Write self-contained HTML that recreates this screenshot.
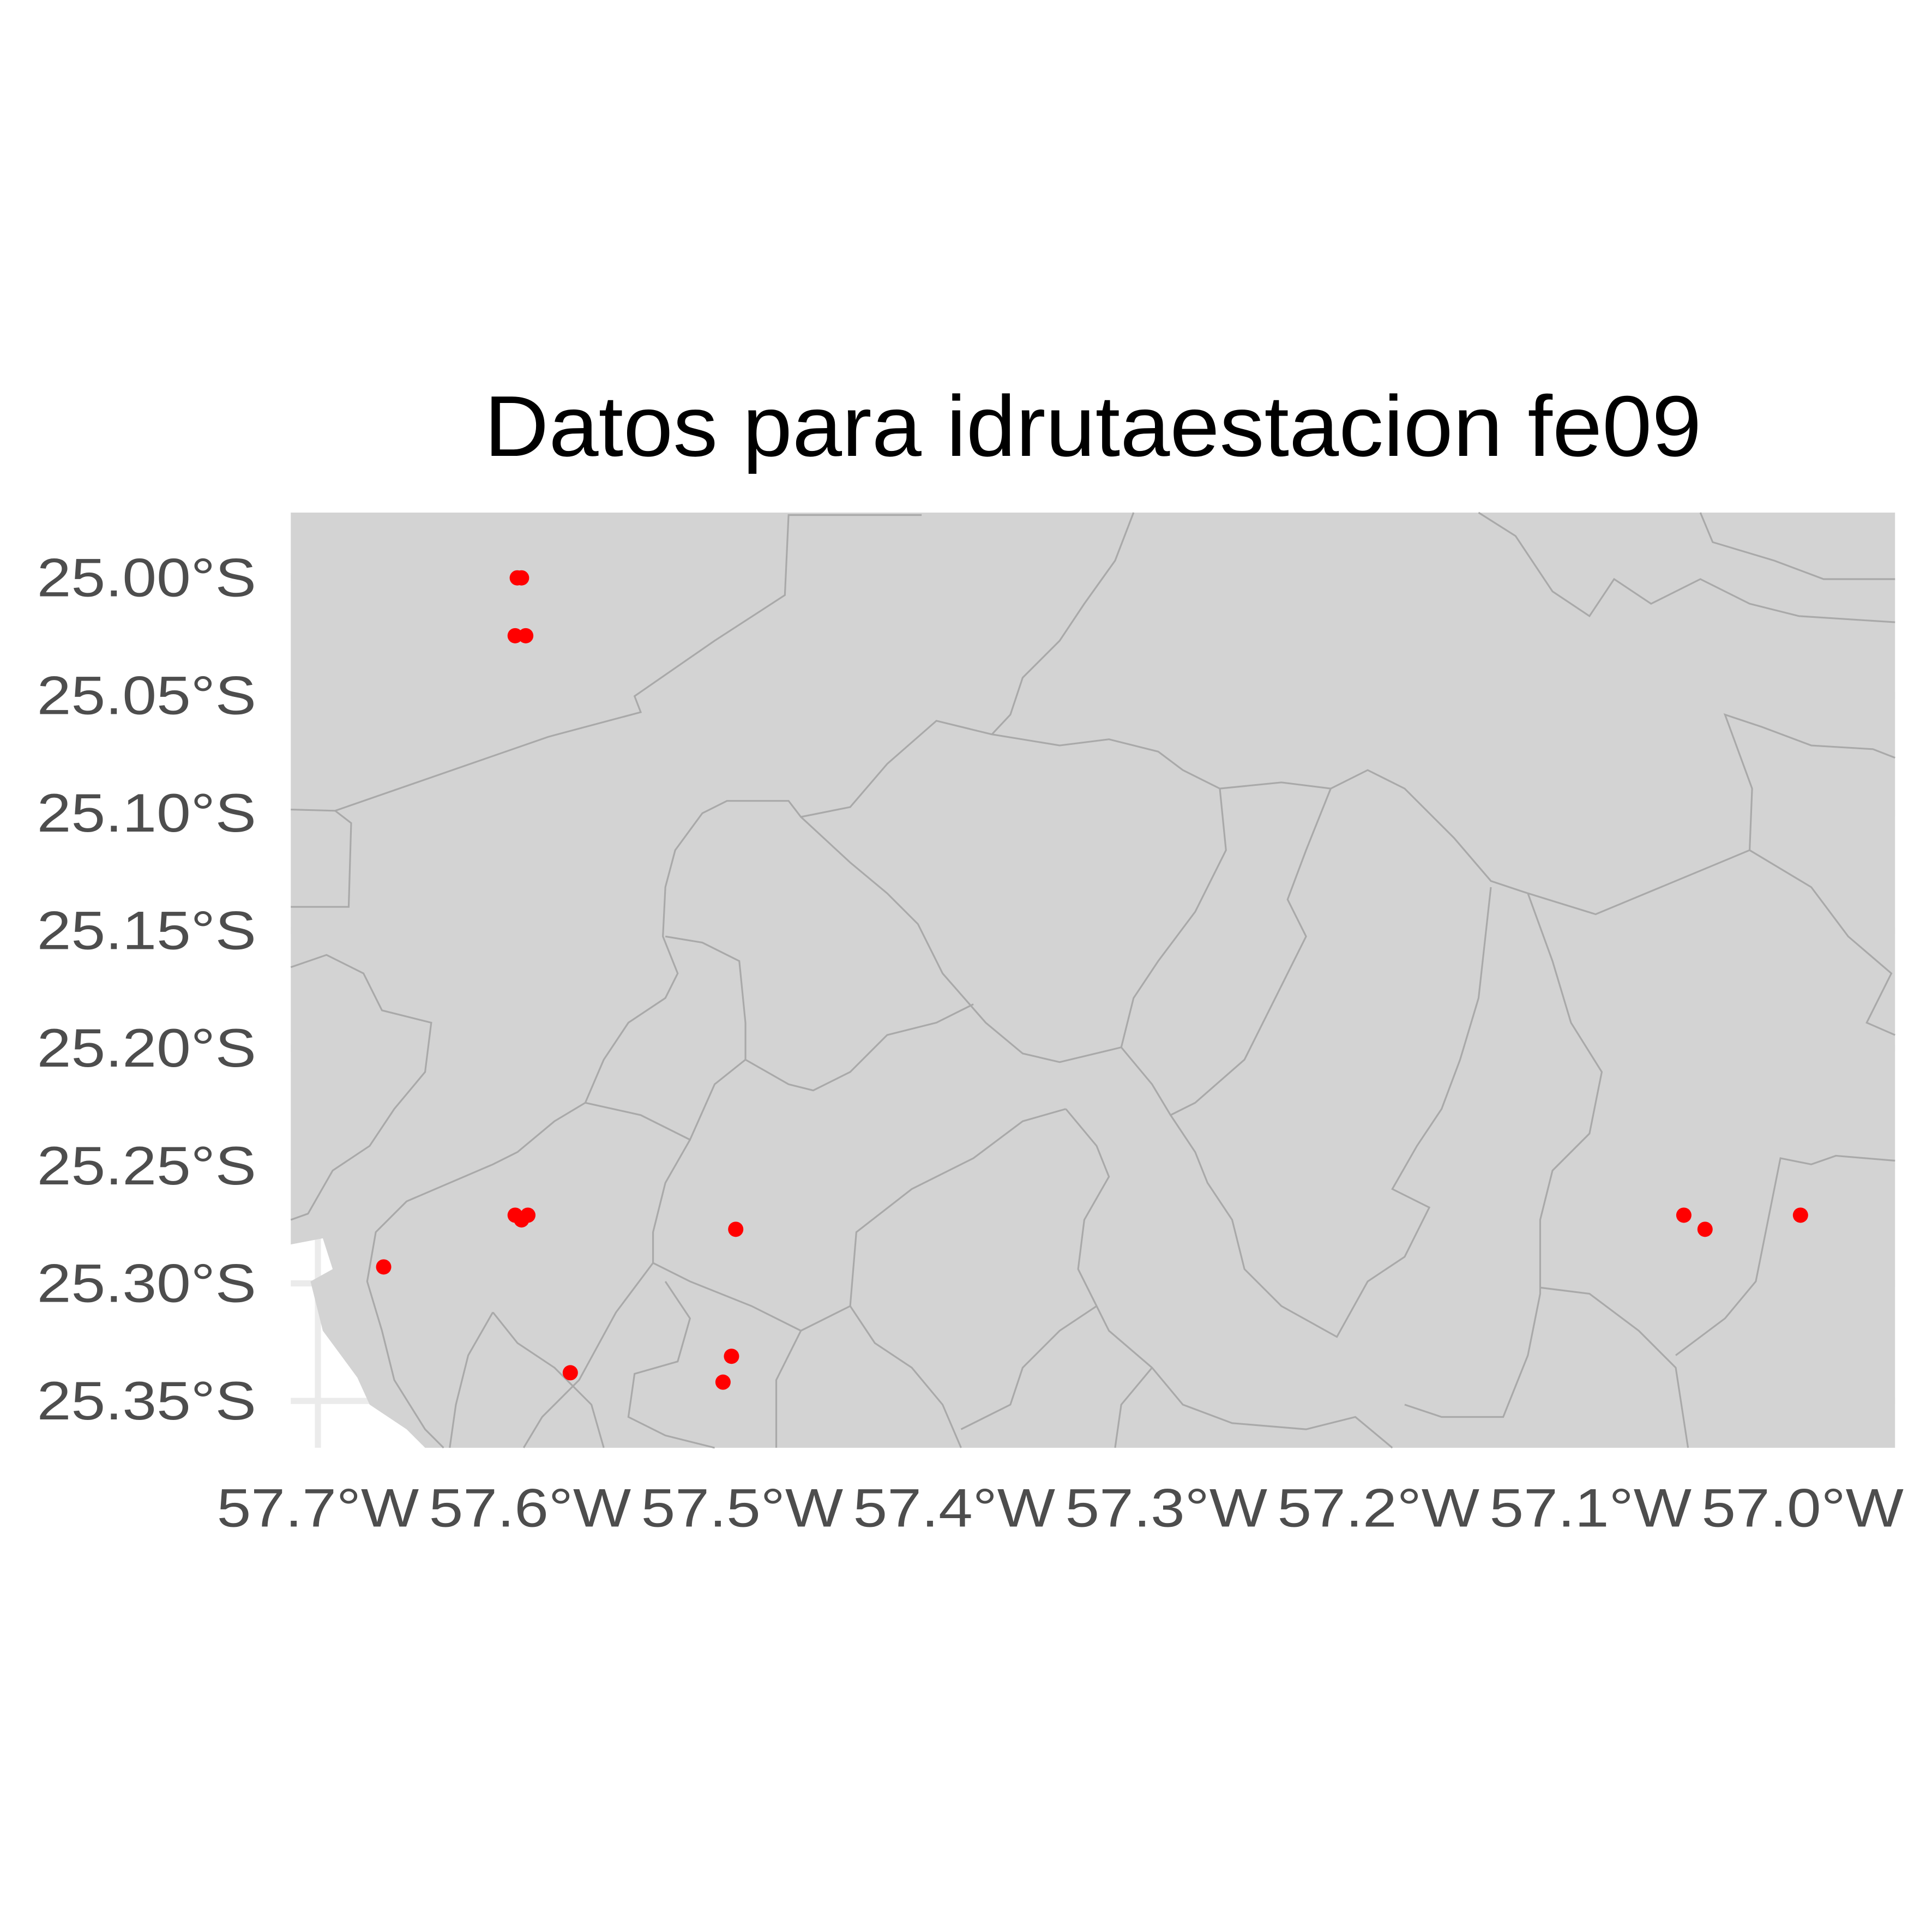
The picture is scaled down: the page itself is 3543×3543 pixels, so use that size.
<!DOCTYPE html>
<html><head><meta charset="utf-8"><style>html,body{margin:0;padding:0;background:#fff}svg{display:block}</style></head>
<body>
<svg width="3543" height="3543" viewBox="0 0 1568 1568" xmlns="http://www.w3.org/2000/svg" font-family="'Liberation Sans', sans-serif">
<rect width="1568" height="1568" fill="#fff"/>
<text x="887" y="370" font-size="70" text-anchor="middle" textLength="988" lengthAdjust="spacingAndGlyphs" fill="#000">Datos para idrutaestacion fe09</text>
<g id="grid"></g>
<path fill="#d3d3d3" d="M236,416H1538V1175H345L330,1160L300,1140L290,1118L262,1080L252,1040L270,1030L262,1005L236,1010Z"/>
<g fill="none" stroke="#a9a9a9" stroke-width="1.4">
<path d="M236,657L272,658L445,598L520,578L515,565L580,520L637,483L640,418H748"/>
<path d="M272,658L285,668L283,736H236"/>
<path d="M920,416L905,455L880,490L860,520L830,550L820,580L805,596L760,585L720,620L690,655L650,663L640,650L590,650L570,660L548,690L540,720L538,760L550,790L540,810L510,830L490,860L475,895L450,910L420,935L400,945L330,975L305,1000L298,1040L310,1080L320,1120L345,1160L360,1175"/>
<path d="M805,596L860,605L900,600L940,610L960,625L990,640L1040,635L1080,640L1110,625L1140,640L1180,680L1210,715L1240,725L1295,742L1420,690L1422,640L1400,580L1430,590L1470,605L1520,608L1538,615"/>
<path d="M650,663L690,700L720,725L745,750L765,790L800,830L830,855L860,862L910,850L935,880L950,905L970,935L980,960L1000,990L1010,1030L1040,1060L1085,1085L1110,1040L1140,1020L1160,980L1130,965L1150,930L1170,900L1185,860L1200,810L1210,720"/>
<path d="M990,640L995,690L970,740L940,780L920,810L910,850"/>
<path d="M1080,640L1060,690L1045,730L1060,760L1040,800L1010,860L970,895L950,905"/>
<path d="M1240,725L1260,780L1275,830L1300,870L1290,920L1260,950L1250,990L1250,1050L1240,1100L1220,1150L1170,1150L1140,1140"/>
<path d="M1420,690L1470,720L1500,760L1535,790L1515,830L1538,840"/>
<path d="M1250,1045L1290,1050L1330,1080L1360,1110L1370,1175"/>
<path d="M1360,1100L1400,1070L1425,1040L1435,990L1445,940L1470,945L1490,938L1538,942"/>
<path d="M475,895L520,905L560,925L580,880L605,860L640,880L660,885L690,870L720,840L760,830L790,815"/>
<path d="M560,925L540,960L530,1000L530,1025L560,1040L610,1060L650,1080L690,1060L695,1000L740,965L790,940L830,910L865,900"/>
<path d="M540,760L570,765L600,780L605,830L605,860"/>
<path d="M865,900L890,930L900,955L880,990L875,1030L890,1060L900,1080L935,1110L960,1140L1000,1155L1060,1160L1100,1150L1130,1175"/>
<path d="M690,1060L710,1090L740,1110L765,1140L780,1175"/>
<path d="M890,1060L860,1080L830,1110L820,1140L780,1160"/>
<path d="M935,1110L910,1140L905,1175"/>
<path d="M650,1080L630,1120L630,1175"/>
<path d="M530,1025L500,1065L470,1120L440,1150L425,1175"/>
<path d="M400,1065L420,1090L450,1110L480,1140L490,1175"/>
<path d="M400,1065L380,1100L370,1140L365,1175"/>
<path d="M540,1040L560,1070L550,1105L515,1115L510,1150L540,1165L580,1175"/>
<path d="M236,785L265,775L295,790L310,820L350,830L345,870L320,900L300,930L270,950L250,985L236,990"/>
<path d="M1200,416L1230,435L1260,480L1290,500L1310,470L1340,490L1380,470L1420,490L1460,500L1538,505"/>
<path d="M1380,416L1390,440L1440,455L1480,470L1538,470"/>
</g>
<g id="ticks"></g>
<g id="points"></g>
<script>
const xTicks=[-57.7,-57.6,-57.5,-57.4,-57.3,-57.2,-57.1,-57.0];
const xTickLabels=["57.7°W","57.6°W","57.5°W","57.4°W","57.3°W","57.2°W","57.1°W","57.0°W"];
const yTicks=[25.00,25.05,25.10,25.15,25.20,25.25,25.30,25.35];
const yTickLabels=["25.00°S","25.05°S","25.10°S","25.15°S","25.20°S","25.25°S","25.30°S","25.35°S"];
const pointLon=[-57.606,-57.604,-57.607,-57.602,-57.607,-57.601,-57.604,-57.669,-57.503,-57.581,-57.505,-57.509,-57.056,-57.046,-57.001];
const pointLat=[25.000,25.000,25.0246,25.0246,25.271,25.271,25.273,25.293,25.277,25.338,25.331,25.342,25.271,25.277,25.271];
const NS="http://www.w3.org/2000/svg";
function xs(lon){return 258+(lon+57.7)*1721.4;}
function ys(lat){return 469+(lat-25.0)*1908.6;}
const grid=document.getElementById('grid');
xTicks.forEach(function(v){const l=document.createElementNS(NS,'line');


l.setAttribute('x1',xs(v));l.setAttribute('x2',xs(v));l.setAttribute('y1',416);l.setAttribute('y2',1175);l.setAttribute('stroke','#ebebeb');l.setAttribute('stroke-width','5');grid.appendChild(l);});
yTicks.forEach(function(v){const l=document.createElementNS(NS,'line');


l.setAttribute('x1',236);l.setAttribute('x2',1538);l.setAttribute('y1',ys(v));l.setAttribute('y2',ys(v));l.setAttribute('stroke','#ebebeb');l.setAttribute('stroke-width','5');grid.appendChild(l);});
const tg=document.getElementById('ticks');
xTicks.forEach(function(v,i){const t=document.createElementNS(NS,'text');


t.setAttribute('x',xs(v));t.setAttribute('y',1239);t.setAttribute('font-size','44');t.setAttribute('text-anchor','middle');t.setAttribute('textLength','164');t.setAttribute('lengthAdjust','spacingAndGlyphs');t.setAttribute('fill','#4d4d4d');t.textContent=xTickLabels[i];tg.appendChild(t);});
yTicks.forEach(function(v,i){const t=document.createElementNS(NS,'text');


t.setAttribute('x',208);t.setAttribute('y',ys(v)+15);t.setAttribute('font-size','44');t.setAttribute('text-anchor','end');t.setAttribute('textLength','178');t.setAttribute('lengthAdjust','spacingAndGlyphs');t.setAttribute('fill','#4d4d4d');t.textContent=yTickLabels[i];tg.appendChild(t);});
const pg=document.getElementById('points');
pointLon.forEach(function(lon,i){const c=document.createElementNS(NS,'circle');


c.setAttribute('cx',xs(lon));c.setAttribute('cy',ys(pointLat[i]));c.setAttribute('r','6.2');c.setAttribute('fill','#ff0000');pg.appendChild(c);});
</script>
</svg>
</body></html>
